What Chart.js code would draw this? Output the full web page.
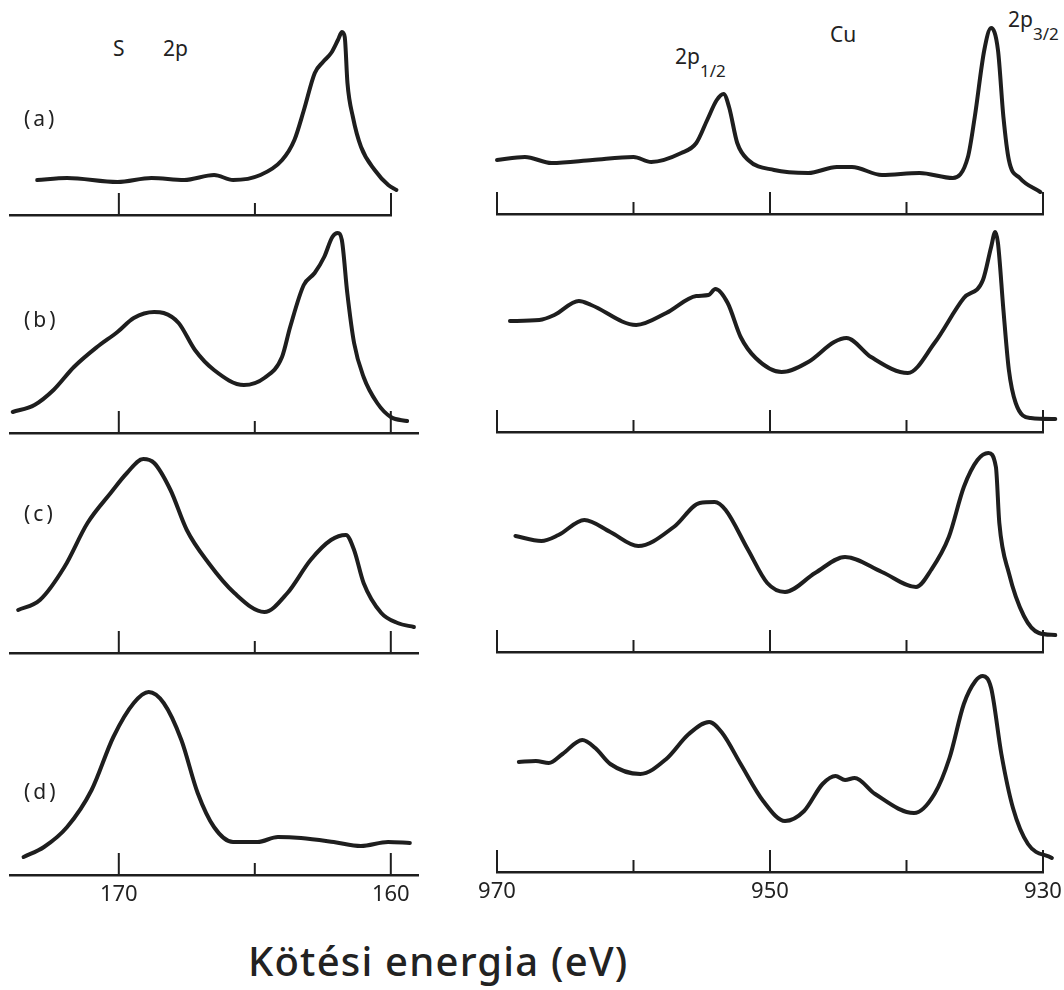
<!DOCTYPE html>
<html>
<head>
<meta charset="utf-8">
<title>S 2p / Cu 2p</title>
<script src="https://cdn.jsdelivr.net/npm/chart.js@4.4.1/dist/chart.umd.min.js"></script>
<style>
  body { margin: 0; background: #fff; }
  #wrap { position: relative; width: 1064px; height: 990px; overflow: hidden; font-family: "Noto Sans", sans-serif; color: #222; }
  #wrap canvas { position: absolute; }
  .lbl { position: absolute; font-size: 21px; line-height: 1; white-space: nowrap; }
  .lbl sub { font-size: 17px; vertical-align: baseline; position: relative; top: 13px; }
  .pname { letter-spacing: 3px; }
  #title { position: absolute; left: 248px; top: 941px; font-size: 40px; line-height: 1; font-weight: 500; letter-spacing: 1.2px; white-space: nowrap; }
</style>
</head>
<body>
<div id="wrap">
  <div class="lbl" style="left:113px;top:38px">S</div>
  <div class="lbl" style="left:163px;top:38px">2p</div>
  <div class="lbl" style="left:830px;top:24px">Cu</div>
  <div class="lbl" style="left:675px;top:46px">2p<sub>1/2</sub></div>
  <div class="lbl" style="left:1008px;top:9px">2p<sub>3/2</sub></div>
  <div id="title">Kötési energia (eV)</div>
</div>
<script>
//DATA (binding energy in eV, intensity in arbitrary units)
const s2pEnergyA = [173.0, 171.9, 170.05, 168.8, 167.6, 166.5, 165.8, 164.8, 164.0, 163.55, 163.2, 162.8, 162.5, 162.2, 161.95, 161.8, 161.7, 161.6, 161.4, 161.1, 160.6, 160.1, 159.8];
const s2pCountsA = [35, 37, 33, 37, 35, 40, 35, 40, 55, 75, 105, 142, 153, 162, 175, 183, 178, 132, 98, 68, 45, 30, 25];

const s2pEnergyB = [173.9, 173.1, 172.4, 171.65, 170.8, 170.05, 169.45, 168.7, 168.35, 167.8, 167.2, 166.5, 165.4, 164.65, 164.0, 163.7, 163.2, 162.8, 162.45, 162.15, 161.95, 161.8, 161.6, 161.35, 161.0, 160.5, 160.0, 159.4];
const s2pCountsB = [21, 28, 43, 66, 86, 101, 115, 121, 120, 110, 83, 63, 48, 55, 76, 106, 148, 160, 176, 196, 200, 193, 140, 90, 56, 30, 16, 12];

const s2pEnergyC = [173.7, 172.9, 172.0, 171.15, 170.3, 169.7, 169.1, 168.7, 168.1, 167.5, 166.7, 165.75, 164.65, 163.8, 162.95, 162.2, 161.65, 161.35, 161.0, 160.35, 159.75, 159.15];
const s2pCountsC = [43, 53, 86, 130, 160, 180, 194, 190, 163, 123, 90, 60, 41, 60, 93, 113, 118, 103, 70, 40, 30, 26];

const s2pEnergyD = [173.5, 172.75, 171.9, 171.0, 170.2, 169.45, 168.9, 168.35, 167.7, 167.1, 166.5, 165.8, 164.9, 164.15, 163.3, 162.1, 161.1, 160.1, 159.3];
const s2pCountsD = [18, 28, 48, 85, 138, 172, 183, 172, 135, 82, 48, 33, 33, 38, 37, 33, 29, 33, 32];

const cu2pEnergyA = [970.0, 967.95, 966.0, 963.0, 960.0, 958.7, 956.5, 955.4, 954.6, 953.9, 953.4, 953.0, 952.4, 951.6, 949.7, 947.2, 945.1, 944.0, 941.8, 939.05, 936.6, 935.5, 935.0, 934.3, 933.8, 933.3, 932.9, 932.5, 931.7, 930.2];
const cu2pCountsA = [54, 57, 51, 54, 57, 52, 61, 71, 94, 114, 120, 107, 71, 54, 44, 41, 47, 47, 39, 41, 36, 57, 97, 164, 186, 164, 97, 54, 36, 22];

const cu2pEnergyB = [969.05, 966.9, 965.8, 964.0, 963.1, 959.8, 957.6, 955.4, 954.5, 954.0, 953.1, 952.15, 951.05, 949.15, 947.2, 945.3, 944.4, 942.6, 939.9, 937.95, 935.8, 934.4, 933.8, 933.5, 933.3, 932.9, 932.5, 932.0, 930.9, 929.1];
const cu2pCountsB = [111, 112, 117, 131, 127, 107, 119, 136, 137, 143, 129, 95, 74, 60, 70, 90, 94, 75, 59, 89, 134, 152, 185, 200, 189, 122, 62, 29, 14, 13];

const cu2pEnergyC = [968.65, 966.75, 965.5, 963.6, 961.7, 959.65, 957.05, 955.15, 954.05, 953.25, 951.6, 950.2, 948.9, 946.7, 944.5, 941.8, 939.3, 938.2, 936.9, 935.8, 934.8, 934.0, 933.45, 933.2, 932.5, 931.4, 930.3, 929.1];
const cu2pCountsC = [116, 111, 117, 132, 120, 106, 125, 149, 150, 142, 102, 69, 60, 79, 95, 80, 65, 82, 115, 165, 192, 199, 185, 129, 79, 36, 19, 17];

const cu2pEnergyD = [968.4, 967.15, 966.2, 965.2, 963.75, 962.8, 961.7, 959.5, 957.6, 955.95, 954.45, 953.5, 952.15, 950.5, 948.9, 947.5, 946.15, 945.2, 944.5, 943.8, 942.3, 939.45, 937.95, 936.85, 935.8, 934.95, 934.4, 933.8, 933.05, 932.2, 931.1, 929.35];
const cu2pCountsD = [110, 111, 109, 118, 132, 124, 108, 98, 113, 138, 150, 139, 108, 71, 51, 61, 88, 96, 92, 94, 78, 59, 78, 114, 168, 191, 196, 184, 118, 64, 28, 14];

// tick positions, and the ones that carry a number (long tick mark)
const s2pTickValues = [160, 165, 170];
const cu2pTickValues = [930, 940, 950, 960, 970];
const s2pLabelTicks = [170, 160];
const cu2pLabelTicks = [970, 950, 930];
const panelNames = ['(a)', '(b)', '(c)', '(d)'];

//LAYOUT
const wrap = document.getElementById('wrap');
const leftAxisY = [215, 433, 653, 875];
const rightAxisY = [214, 432, 652, 872];
const panelNameTop = [108, 309, 503, 781];
const PX_S = 27.2;   // px per eV, S 2p column
const PX_CU = 13.65; // px per eV, Cu 2p column
const AREA_H = 210;
const PAD_TOP = 4;
const lineColor = '#1e1e1e';

function toPoints(energy, counts) {
  return energy.map((e, i) => ({ x: e, y: counts[i] }));
}

// short upward tick marks sitting on the axis line
function tickPlugin(labelled) {
  return {
    id: 'tickMarks',
    afterDraw(chart) {
      const xs = chart.scales.x;
      const ctx = chart.ctx;
      ctx.save();
      ctx.strokeStyle = lineColor;
      ctx.lineWidth = 2;
      xs.ticks.forEach(t => {
        const px = xs.getPixelForValue(t.value);
        const len = labelled.includes(t.value) ? 22 : 12;
        ctx.beginPath();
        ctx.moveTo(px, xs.top);
        ctx.lineTo(px, xs.top - len);
        ctx.stroke();
      });
      ctx.restore();
    }
  };
}

function makePanel(col, row, energy, counts) {
  const isS = col === 0;
  const last = row === 3;
  const xMin = isS ? (row === 0 ? 160 : 159) : 930;
  const xMax = isS ? 174 : 970;
  const padL = isS ? 10 : 24;
  const padR = isS ? 20 : 21;
  const axisH = last ? 40 : 4;
  const tickValues = isS ? s2pTickValues : cu2pTickValues;
  const labelled = isS ? s2pLabelTicks : cu2pLabelTicks;

  const canvas = document.createElement('canvas');
  canvas.width = Math.round(padL + (xMax - xMin) * (isS ? PX_S : PX_CU) + padR);
  canvas.height = PAD_TOP + AREA_H + axisH;
  canvas.style.left = ((isS ? 10 : 497) - padL) + 'px';
  canvas.style.top = ((isS ? leftAxisY : rightAxisY)[row] - PAD_TOP - AREA_H) + 'px';
  wrap.appendChild(canvas);

  new Chart(canvas, {
    type: 'line',
    data: {
      datasets: [{
        data: toPoints(energy, counts),
        borderColor: lineColor,
        borderWidth: 4,
        pointRadius: 0,
        fill: false,
        cubicInterpolationMode: 'monotone',
        borderCapStyle: 'round',
        borderJoinStyle: 'round',
        clip: false
      }]
    },
    options: {
      responsive: false,
      animation: false,
      devicePixelRatio: 1,
      events: [],
      layout: { padding: { left: padL, right: padR, top: PAD_TOP, bottom: 0 } },
      plugins: { legend: { display: false }, tooltip: { enabled: false } },
      scales: {
        x: {
          type: 'linear',
          reverse: true,
          min: xMin,
          max: xMax,
          grid: { display: false, drawTicks: false },
          border: { display: true, color: lineColor, width: 2.5 },
          ticks: {
            display: last,
            autoSkip: false,
            maxRotation: 0,
            padding: 7,
            color: '#222',
            font: { family: 'Noto Sans', size: 22 },
            callback: v => labelled.includes(v) ? String(v) : ''
          },
          afterBuildTicks: s => { s.ticks = tickValues.map(v => ({ value: v })); },
          afterFit: s => { s.height = axisH; }
        },
        y: { display: false, min: 0, max: AREA_H }
      }
    },
    plugins: [tickPlugin(labelled)]
  });
}

makePanel(0, 0, s2pEnergyA, s2pCountsA);
makePanel(0, 1, s2pEnergyB, s2pCountsB);
makePanel(0, 2, s2pEnergyC, s2pCountsC);
makePanel(0, 3, s2pEnergyD, s2pCountsD);
makePanel(1, 0, cu2pEnergyA, cu2pCountsA);
makePanel(1, 1, cu2pEnergyB, cu2pCountsB);
makePanel(1, 2, cu2pEnergyC, cu2pCountsC);
makePanel(1, 3, cu2pEnergyD, cu2pCountsD);

// (a) (b) (c) (d)
panelNames.forEach((name, i) => {
  const d = document.createElement('div');
  d.className = 'lbl pname';
  d.style.left = '24px';
  d.style.top = panelNameTop[i] + 'px';
  d.textContent = name;
  wrap.appendChild(d);
});
</script>
</body>
</html>
